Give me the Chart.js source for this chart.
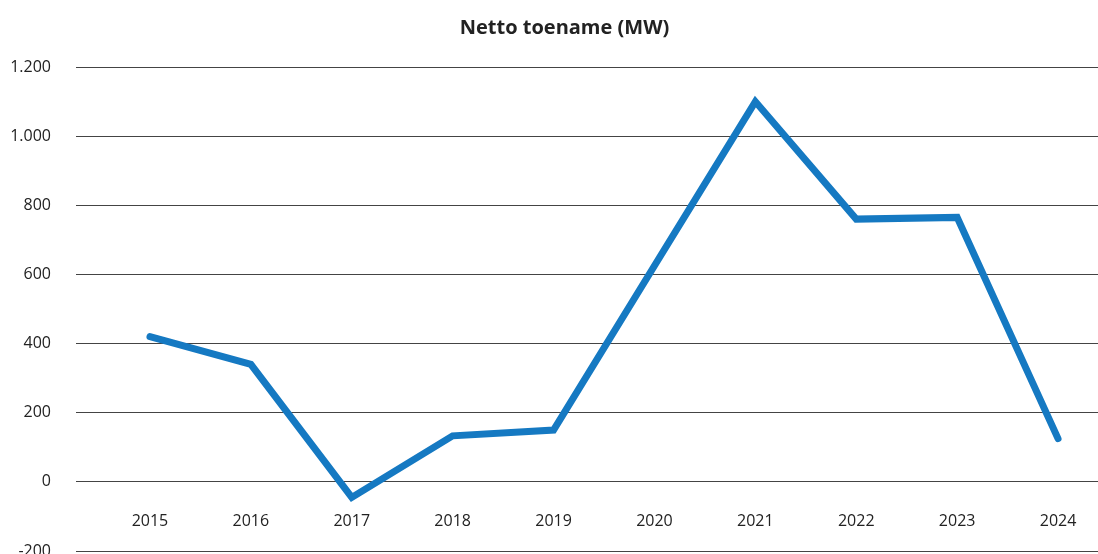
<!DOCTYPE html>
<html>
<head>
<meta charset="utf-8">
<script src="https://cdn.jsdelivr.net/npm/chart.js@4"></script>
<style>
    html, body { margin: 0; padding: 0; background: #fff; overflow: hidden; }
    #wrap { width: 1098px; height: 554px; overflow: hidden; }
</style>
</head>
<body>
<div id="wrap"><canvas id="myChart" width="1098" height="572"></canvas></div>
<script>
// chart data
const years = [2015, 2016, 2017, 2018, 2019, 2020, 2021, 2022, 2023, 2024];
const nettoToename = [420, 340, -45, 133, 150, 625, 1100, 760, 765, 125];
const yTicks = [-200, 0, 200, 400, 600, 800, 1000, 1200];

const textColor = "#222";
const fontFamily = "'Open Sans', 'Noto Sans', sans-serif";

function noPadding(scale) {
    scale.paddingTop = 0; scale.paddingBottom = 0; //don't let labels shrink the plot area
    scale.paddingLeft = 0; scale.paddingRight = 0;
}

// title in the original sits a bit right of centre
const shiftTitle = {
    id: "shiftTitle",
    afterLayout(chart) {
        if (chart.titleBlock) chart.titleBlock.left = 31;
    }
};

function init() {
    const canvas = document.getElementById("myChart");

    const points = years.map((year, i) => ({ x: year, y: nettoToename[i] })); // pair years with values

    new Chart(canvas, {
        type: "line",
        data: {
            datasets: [{
                label: "Netto toename (MW)",
                data: points,
                borderColor: "#1579c2",
                borderWidth: 7,
                borderCapStyle: "round",
                borderJoinStyle: "miter",
                pointRadius: 0,
                tension: 0,
                fill: false
            }]
        },
        options: {
            responsive: false,
            animation: false,
            layout: { padding: { left: 0, right: 0, top: 0, bottom: 21 } },
            plugins: {
                legend: { display: false },
                tooltip: { enabled: false },
                title: {
                    display: true,
                    text: "Netto toename (MW)",
                    color: textColor,
                    font: { family: fontFamily, size: 20, weight: "bold" },
                    padding: { top: 16, bottom: 27 }
                }
            },
            scales: {
                x: {
                    type: "linear",
                    position: { y: 0 }, // labels sit under the zero line
                    min: 2014.267,
                    max: 2024.396,
                    afterFit: noPadding,
                    grid: { display: false },
                    border: { display: false },
                    ticks: {
                        stepSize: 1,
                        includeBounds: false,
                        padding: 22,
                        color: textColor,
                        font: { family: fontFamily, size: 16 },
                        callback: (v) => years.includes(v) ? String(v) : ""
                    }
                },
                y: {
                    min: -200,
                    max: 1200,
                    afterFit: (scale) => { scale.width = 76; noPadding(scale); },
                    afterBuildTicks: (scale) => { scale.ticks = yTicks.map(v => ({ value: v })); },
                    grid: { color: "#444", lineWidth: 1, drawTicks: false },
                    border: { display: false },
                    ticks: {
                        padding: 25,
                        color: textColor,
                        font: { family: fontFamily, size: 16 },
                        callback: (v) => v.toLocaleString("nl-NL")
                    }
                }
            }
        },
        plugins: [shiftTitle]
    });
}

document.addEventListener("DOMContentLoaded", init);
</script>
</body>
</html>
